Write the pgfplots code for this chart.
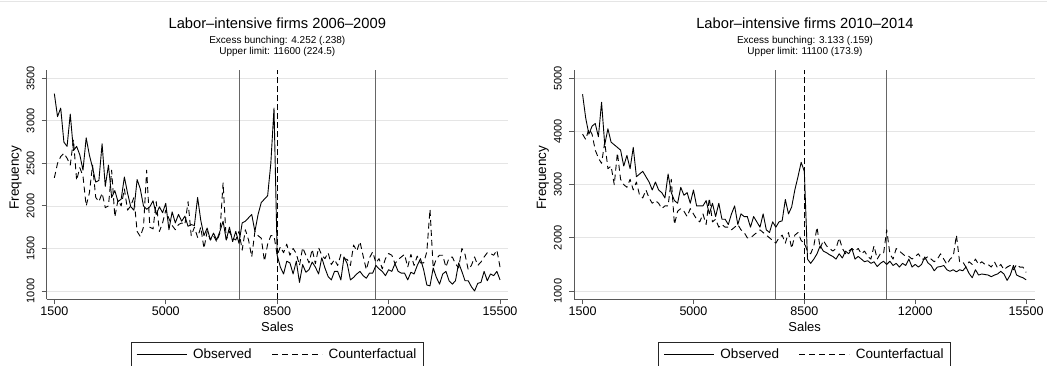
\documentclass[border=0pt]{standalone}
\usepackage{pgfplots}
\usepackage{pgfplotstable}
\pgfplotsset{compat=1.18}
\usepackage{fontspec}
\setmainfont{Liberation Sans}

\pgfplotstableread{
x obs cf
1500 3320 2330
1600 3050 2500
1700 3150 2580
1800 2750 2620
1900 2700 2560
2000 3080 2480
2100 2650 2780
2200 2700 2300
2300 2600 2450
2400 2420 2350
2500 2800 2000
2600 2600 2150
2700 2450 2480
2800 2280 2100
2900 2300 2050
3000 2730 2150
3100 2230 1980
3200 2480 2000
3300 2100 2420
3400 2180 1870
3500 2050 2070
3600 2080 2000
3700 2340 2200
3800 2150 1950
3900 1990 2000
4000 1950 2100
4100 2310 1700
4200 2200 1640
4300 2000 1750
4400 1960 2420
4500 1990 1750
4600 2060 1730
4700 1900 2050
4800 1990 1700
4900 1920 1800
5000 2030 1950
5100 1720 1850
5200 1930 1770
5300 1800 1720
5400 1900 1780
5500 1820 1800
5600 1880 1780
5700 1760 2050
5800 1780 1650
5900 1770 1750
6000 2100 1630
6100 1830 1750
6200 1650 1500
6300 1740 1700
6400 1600 1600
6500 1680 1650
6600 1600 1580
6700 1700 1680
6800 1820 2270
6900 1600 1600
7000 1750 1700
7100 1580 1620
7200 1700 1600
7300 1560 1700
7400 1800 1480
7500 1820 1720
7600 1860 1600
7700 1900 1400
7800 1700 1700
7900 1900 1650
8000 2040 1620
8100 2080 1350
8200 2120 1550
8300 2500 1650
8400 3150 1650
8500 1420 1420
8600 1280 1520
8700 1200 1450
8800 1350 1550
8900 1330 1420
9000 1200 1500
9100 1350 1440
9200 1100 1300
9300 1310 1510
9400 1220 1420
9500 1250 1330
9600 1340 1490
9700 1280 1320
9800 1200 1510
9900 1390 1420
10000 1270 1380
10100 1170 1450
10200 1130 1310
10300 1230 1370
10400 1230 1300
10500 1130 1430
10600 1400 1380
10700 1320 1370
10800 1130 1300
10900 1160 1540
11000 1200 1470
11100 1230 1580
11200 1180 1410
11300 1150 1250
11400 1210 1390
11500 1210 1460
11600 1300 1330
11700 1260 1380
11800 1230 1260
11900 1180 1380
12000 1250 1440
12100 1230 1420
12200 1320 1320
12300 1230 1370
12400 1210 1400
12500 1210 1430
12600 1130 1280
12700 1220 1430
12800 1200 1300
12900 1300 1410
13000 1380 1330
13100 1250 1330
13200 1070 1460
13300 1060 1960
13400 1270 1270
13500 1160 1380
13600 1080 1420
13700 1200 1420
13800 1230 1280
13900 1120 1390
14000 1080 1400
14100 1120 1320
14200 1330 1270
14300 1230 1500
14400 1120 1430
14500 1120 1250
14600 1050 1300
14700 1000 1400
14800 1090 1300
14900 1100 1340
15000 1230 1400
15100 1120 1450
15200 1200 1440
15300 1180 1420
15400 1230 1480
15500 1130 1280
}\tableA

\pgfplotstableread{
x obs cf
1500 4700 3950
1600 4250 3850
1700 3950 4050
1800 4100 3950
1900 4150 3650
2000 3900 3500
2100 4550 3400
2200 3750 3800
2300 4050 3300
2400 3800 3350
2500 3750 3000
2600 3700 3600
2700 3650 3100
2800 3350 3000
2900 3550 2950
3000 3300 3100
3100 3700 2900
3200 3150 3050
3300 3200 2800
3400 3250 2750
3500 3150 2900
3600 3050 2750
3700 2900 2650
3800 3050 2700
3900 2900 2650
4000 2850 2550
4100 2750 2600
4200 3200 2600
4300 2850 3100
4400 2700 2250
4500 2650 2500
4600 2950 2550
4700 2800 2500
4800 2850 2400
4900 2650 2550
5000 2900 2450
5100 2600 2350
5200 2600 2300
5300 2600 2450
5400 2700 2250
5500 2450 2750
5600 2650 2300
5700 2400 2350
5800 2650 2200
5900 2350 2250
6000 2350 2200
6100 2250 2200
6200 2450 2150
6300 2600 2200
6400 2250 2250
6500 2450 2150
6600 2400 2100
6700 2400 2000
6800 2200 2000
6900 2400 2050
7000 2300 2100
7100 2200 2150
7200 2450 2100
7300 2150 2050
7400 2100 2000
7500 2300 1950
7600 2200 1900
7700 2300 2000
7800 2320 2050
7900 2720 1900
8000 2450 2100
8100 2580 1800
8200 2900 2050
8300 3150 2100
8400 3420 1950
8500 3250 1900
8600 1600 1750
8700 1520 1700
8800 1600 1850
8900 1700 2200
9000 1850 1800
9100 1750 1950
9200 1720 1850
9300 1680 1800
9400 1650 1750
9500 1600 1800
9600 1700 2000
9700 1620 1800
9800 1750 1700
9900 1700 1750
10000 1800 1800
10100 1600 1750
10200 1650 1800
10300 1600 1700
10400 1550 1750
10500 1570 1650
10600 1520 1600
10700 1550 1850
10800 1460 1600
10900 1520 1700
11000 1560 1700
11100 1500 2150
11200 1560 1700
11300 1480 1600
11400 1520 1800
11500 1450 1750
11600 1520 1700
11700 1480 1650
11800 1600 1650
11900 1450 1600
12000 1500 1650
12100 1450 1700
12200 1500 1600
12300 1640 1600
12400 1530 1650
12500 1480 1600
12600 1380 1550
12700 1450 1600
12800 1460 1700
12900 1480 1600
13000 1400 1500
13100 1370 1600
13200 1400 1650
13300 1360 2050
13400 1400 1550
13500 1380 1550
13600 1450 1450
13700 1330 1550
13800 1250 1500
13900 1400 1600
14000 1300 1500
14100 1320 1550
14200 1310 1500
14300 1300 1500
14400 1270 1450
14500 1300 1550
14600 1320 1430
14700 1370 1500
14800 1320 1400
14900 1200 1450
15000 1300 1480
15100 1480 1400
15200 1300 1500
15300 1270 1450
15400 1250 1450
15500 1210 1350
}\tableB

\pgfplotsset{
  stata/.style={
    scale only axis, width=461.3pt, height=229.3pt,
    axis x line*=bottom, axis y line*=left,
    axis line style={black!65, line width=0.9pt},
    tick align=outside, major tick length=5pt,
    every tick/.style={black!65, line width=0.9pt},
    scaled x ticks=false, scaled y ticks=false,
    xtick={1500,5000,8500,12000,15500},
    xticklabels={1500,5000,8500,12000,15500},
    x tick label style={font=\fontsize{12.5}{13}\selectfont, inner sep=2pt},
    y tick label style={rotate=90, anchor=south, font=\fontsize{11}{12}\selectfont, inner sep=7pt},
    ymajorgrids, major grid style={black!10, line width=0.8pt},
    xlabel={Sales}, ylabel={Frequency},
    xlabel style={at={(axis description cs:0.5,0)}, anchor=center, yshift=-28pt, font=\fontsize{13}{14}\selectfont},
    ylabel style={at={([xshift=-31pt]axis description cs:0,0.53)}, anchor=center, font=\fontsize{13.5}{14}\selectfont},
    legend columns=2,
    legend style={at={(axis description cs:0.5,0)}, anchor=north, yshift=-43pt,
      draw=black!85, line width=0.8pt, font=\fontsize{13.5}{14}\selectfont,
      inner xsep=5pt, inner ysep=4pt,
      /tikz/every odd column/.append style={column sep=4pt},
      /tikz/every even column/.append style={column sep=18pt}},
    legend image code/.code={\draw[#1] (0pt,0pt) -- (50pt,0pt);},
    obsline/.style={black, line width=0.9pt, line join=round},
    cfline/.style={black, line width=0.9pt, line join=round, dash pattern=on 6pt off 4pt},
  }
}

\begin{document}
\begin{tikzpicture}
\draw[black!10, line width=0.8pt] (0pt,365pt) -- (1047pt,365pt);
\begin{axis}[stata, at={(46.7pt,66.7pt)}, anchor=south west,
  xmin=1260, xmax=15750, ymin=902, ymax=3598,
  ytick={1000,1500,2000,2500,3000,3500},
  yticklabels={1000,1500,2000,2500,3000,3500}]
\addplot[black!60, line width=0.9pt, forget plot] coordinates {(7300,902) (7300,3598)};
\addplot[black!60, line width=0.9pt, forget plot] coordinates {(11600,902) (11600,3598)};
\addplot[black, line width=0.9pt, dash pattern=on 6pt off 3pt, forget plot] coordinates {(8500,902) (8500,3598)};
\addplot[obsline] table[x=x, y=obs] {\tableA};
\addlegendentry{Observed}
\addplot[cfline] table[x=x, y=cf] {\tableA};
\addlegendentry{Counterfactual}
\end{axis}
\begin{axis}[stata, at={(574pt,66.7pt)}, anchor=south west,
  xmin=1230, xmax=15790, ymin=844, ymax=5156,
  ytick={1000,2000,3000,4000,5000},
  yticklabels={1000,2000,3000,4000,5000}]
\addplot[black!60, line width=0.9pt, forget plot] coordinates {(7600,844) (7600,5156)};
\addplot[black!60, line width=0.9pt, forget plot] coordinates {(11100,844) (11100,5156)};
\addplot[black, line width=0.9pt, dash pattern=on 6pt off 3pt, forget plot] coordinates {(8500,844) (8500,5156)};
\addplot[obsline] table[x=x, y=obs] {\tableB};
\addlegendentry{Observed}
\addplot[cfline] table[x=x, y=cf] {\tableB};
\addlegendentry{Counterfactual}
\end{axis}
\node[font=\fontsize{14.7}{15}\selectfont] at (277.3pt,342.7pt) {Labor–intensive firms 2006–2009};
\node[font=\fontsize{10}{11}\selectfont] at (277.3pt,325.3pt) {Excess bunching: 4.252 (.238)};
\node[font=\fontsize{10}{11}\selectfont] at (277.3pt,314pt) {Upper limit: 11600 (224.5)};
\node[font=\fontsize{14.7}{15}\selectfont] at (805pt,342.7pt) {Labor–intensive firms 2010–2014};
\node[font=\fontsize{10}{11}\selectfont] at (805pt,325.3pt) {Excess bunching: 3.133 (.159)};
\node[font=\fontsize{10}{11}\selectfont] at (805pt,314pt) {Upper limit: 11100 (173.9)};
\pgfresetboundingbox
\path[use as bounding box] (0pt,0pt) rectangle (1047pt,366pt);
\end{tikzpicture}
\end{document}
